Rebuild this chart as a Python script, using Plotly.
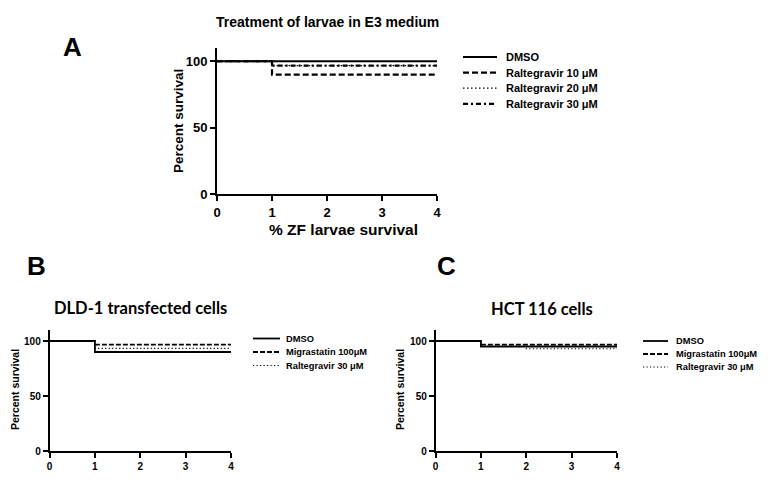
import plotly.graph_objects as go

# the page puts the figure 8 px in from the top-left corner, so the figure
# is drawn 8 px smaller and every reference pixel is shifted by that amount
OFF = 8
W, H = 777 - OFF, 480 - OFF

# time points (shared by all three panels)
days = [0, 1, 2, 3, 4]

# Panel A - larvae in E3 medium
a_names = ["DMSO", "Raltegravir 10 μM", "Raltegravir 20 μM", "Raltegravir 30 μM"]
a_dmso = [100, 100, 100, 100, 100]
a_ral10 = [100, 90, 90, 90, 90]
a_ral20 = [100, 96.7, 96.7, 96.7, 96.7]
a_ral30 = [100, 96.7, 96.7, 96.7, 96.7]

# Panel B - DLD-1 transfected cells
bc_names = ["DMSO", "Migrastatin 100μM", "Raltegravir 30 μM"]
b_dmso = [100, 90, 90, 90, 90]
b_mig = [100, 96.7, 96.7, 96.7, 96.7]
b_ral = [100, 93.3, 93.3, 93.3, 93.3]

# Panel C - HCT 116 cells
c_dmso = [100, 95, 95, 95, 95]
c_mig = [100, 96.7, 96.7, 96.7, 96.7]
c_ral = [100, 95, 93, 93, 93]

yticks = [0, 50, 100]
xticks = [0, 1, 2, 3, 4]

ARIAL = "Liberation Sans, Arial, sans-serif"


def px(x):
    return (x - OFF) / W


def py(y):
    return 1 - (y - OFF) / H


fig = go.Figure()

# (dash, width) per series
styles_a = [("solid", 2.2), ("6px,3px", 2.2), ("1.5px,2.5px", 1.3), ("5px,3px,2px,3px", 2.2)]
styles_bc = [("solid", 1.8), ("5px,2px", 1.8), ("1.2px,2.3px", 1.1)]

for name, vals, (dash, w) in zip(a_names, [a_dmso, a_ral10, a_ral20, a_ral30], styles_a):
    fig.add_trace(go.Scatter(x=days, y=vals, name=name, mode="lines", line_shape="hv",
                             line=dict(color="black", dash=dash, width=w),
                             xaxis="x", yaxis="y", showlegend=False))
for name, vals, (dash, w) in zip(bc_names, [b_dmso, b_mig, b_ral], styles_bc):
    fig.add_trace(go.Scatter(x=days, y=vals, name=name, mode="lines", line_shape="hv",
                             line=dict(color="black", dash=dash, width=w),
                             xaxis="x2", yaxis="y2", showlegend=False))
for name, vals, (dash, w) in zip(bc_names, [c_dmso, c_mig, c_ral], styles_bc):
    fig.add_trace(go.Scatter(x=days, y=vals, name=name, mode="lines", line_shape="hv",
                             line=dict(color="black", dash=dash, width=w),
                             xaxis="x3", yaxis="y3", showlegend=False))

# axis pixel boxes in the reference: (left, right, bottom, top)
box_a = (217, 437, 194, 48)
box_b = (49.5, 231, 451, 330)
box_c = (435.5, 617, 451, 330)


def axes(box, lw, fs, anchor):
    l, r, b, t = box
    common = dict(showline=True, linecolor="black", linewidth=lw, ticks="outside", ticklen=5,
                  tickwidth=lw, tickcolor="black", showgrid=False, zeroline=False,
                  automargin=False,
                  tickfont=dict(family=ARIAL, size=fs, color="black", weight="bold"))
    xa = dict(domain=[px(l), px(r)], range=[0, 4], tickvals=xticks, anchor=anchor[1], **common)
    ya = dict(domain=[py(b), py(t)], range=[0, 110], tickvals=yticks, anchor=anchor[0], **common)
    return xa, ya


xa, ya = axes(box_a, 2, 13, ("x", "y"))
xb, yb = axes(box_b, 1.5, 10, ("x2", "y2"))
xc, yc = axes(box_c, 1.5, 10, ("x3", "y3"))

fig.update_layout(
    width=W, height=H,
    margin=dict(l=0, r=0, t=0, b=0, autoexpand=False),
    plot_bgcolor="white", paper_bgcolor="white",
    showlegend=False,
    xaxis=xa, yaxis=ya, xaxis2=xb, yaxis2=yb, xaxis3=xc, yaxis3=yc,
)


# hand-built legends (GraphPad style: tight rows, short line samples)
def legend(names, styles, x0, x1, xt, y0, dy, fs):
    for i, (name, (dash, w)) in enumerate(zip(names, styles)):
        y = y0 + i * dy
        fig.add_shape(type="line", xref="paper", yref="paper", x0=px(x0), x1=px(x1),
                      y0=py(y), y1=py(y), line=dict(color="black", dash=dash, width=w))
        fig.add_annotation(text="<b>%s</b>" % name, x=px(xt), y=py(y), xref="paper", yref="paper",
                           showarrow=False, xanchor="left", yanchor="middle",
                           font=dict(family=ARIAL, size=fs, color="black"))


legend(a_names, styles_a, 463, 497, 504, 57, 15.6, 11)
legend(bc_names, styles_bc, 253, 280, 284, 338.5, 13.5, 9.3)
legend(bc_names, styles_bc, 643, 668, 674, 341, 13, 9.3)

notes = [
    ("A", 72.7, 47.5, 26, ARIAL, 0),
    ("B", 36, 266, 26, ARIAL, 0),
    ("C", 447, 266, 26, ARIAL, 0),
    ("Treatment of larvae in E3 medium", 327, 22, 14, ARIAL, 0),
    ("% ZF larvae survival", 343, 229, 15.5, ARIAL, 0),
    ("Percent survival", 178, 121, 13.5, ARIAL, -90),
    ("DLD-1 transfected cells", 140, 308, 16.5, "Lato, sans-serif", 0),
    ("HCT 116 cells", 542, 309, 16.5, "Lato, sans-serif", 0),
    ("Percent survival", 15, 390, 10.5, ARIAL, -90),
    ("Percent survival", 400, 390, 10.5, ARIAL, -90),
]
for text, x, y, size, fam, ang in notes:
    fig.add_annotation(text="<b>%s</b>" % text, x=px(x), y=py(y), xref="paper", yref="paper",
                       showarrow=False, xanchor="center", yanchor="middle", textangle=ang,
                       font=dict(family=fam, size=size, color="black"))

fig.write_html("out.html")
